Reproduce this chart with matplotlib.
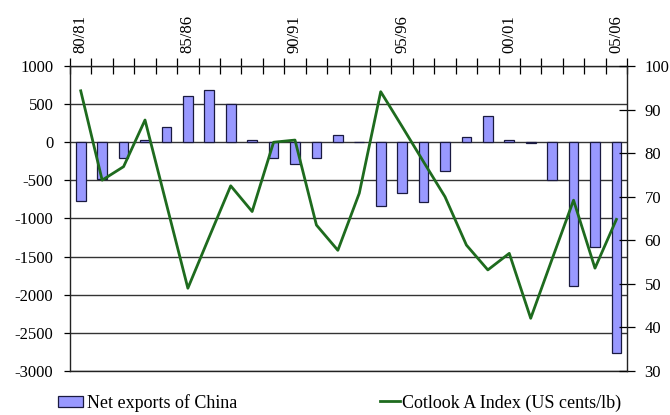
import numpy as np
import matplotlib
matplotlib.use("Agg")
import matplotlib.pyplot as plt
from matplotlib.patches import Patch
from matplotlib.lines import Line2D

plt.rcParams['font.family'] = ['Liberation Serif', 'DejaVu Serif']
plt.rcParams['axes.unicode_minus'] = False

seasons = ['80/81', '81/82', '82/83', '83/84', '84/85', '85/86', '86/87', '87/88',
           '88/89', '89/90', '90/91', '91/92', '92/93', '93/94', '94/95', '95/96',
           '96/97', '97/98', '98/99', '99/00', '00/01', '01/02', '02/03', '03/04',
           '04/05', '05/06']
net_exports = [-770, -480, -210, 35, 195, 610, 685, 500, 35, -210, -280, -210, 100, 0,
               -840, -660, -780, -380, 75, 350, 35, -15, -500, -1890, -1380, -2760]
cotlook = [94.3, 73.8, 76.9, 87.6, 68.3, 49.0, 60.8, 72.5, 66.6, 82.5, 83.0, 63.5, 57.7,
           70.8, 94.1, 86.1, 78.0, 70.0, 58.9, 53.2, 57.0, 42.1, 55.7, 69.2, 53.6, 64.8]
labelled = ['80/81', '85/86', '90/91', '95/96', '00/01', '05/06']

bar_color = '#9999ff'
line_color = '#1e6b1e'

fig = plt.figure(figsize=(6.7, 4.15), dpi=100)
ax = fig.add_axes([0.1045, 0.106, 0.8315, 0.735])
x = np.arange(len(seasons))

ax.bar(x, net_exports, width=0.45, color=bar_color, edgecolor='#1a1a40', linewidth=0.9, zorder=2)
ax.set_ylim(-3000, 1000)
ax.set_yticks(np.arange(-3000, 1001, 500))
ax.set_xlim(-0.5, len(seasons) - 0.5)
ax.yaxis.grid(True, color='#333333', linewidth=1.0, zorder=0)
ax.set_axisbelow(True)
ax.tick_params(axis='y', direction='out', length=4, width=0.9, pad=8, labelsize=12)

# categories on top: boundary ticks, labels every 5 seasons
ax.xaxis.tick_top()
ax.set_xticks(np.arange(len(seasons) + 1) - 0.5)
ax.set_xticklabels([])
ax.tick_params(axis='x', which='major', direction='inout', length=11, width=0.9)
ax.set_xticks([seasons.index(s) for s in labelled], minor=True)
ax.set_xticklabels(labelled, minor=True, rotation=90)
ax.tick_params(axis='x', which='minor', length=0, pad=9, labelsize=12, top=True, labeltop=True,
               bottom=False, labelbottom=False)
for sp in ax.spines.values():
    sp.set_color('#222222')
    sp.set_linewidth(1.0)
ax.spines['right'].set_visible(False)

ax2 = ax.twinx()
ax2.plot(x, cotlook, color=line_color, linewidth=2.0, zorder=3)
ax2.set_ylim(30, 100)
ax2.set_yticks(np.arange(30, 101, 10))
ax2.tick_params(axis='y', direction='inout', length=11, width=0.9, pad=7, labelsize=12)
for sp in ax2.spines.values():
    sp.set_visible(False)
ax2.spines['right'].set_visible(True)
ax2.spines['right'].set_color('#222222')
ax2.spines['right'].set_linewidth(1.0)

h1 = Patch(facecolor=bar_color, edgecolor='#1a1a40', linewidth=0.9)
h2 = Line2D([], [], color=line_color, linewidth=2.0)
fig.legend([h1], ['Net exports of China'], loc='lower left', bbox_to_anchor=(0.0866, 0.008),
           frameon=False, fontsize=13, borderpad=0, borderaxespad=0,
           handlelength=1.4, handleheight=0.55, handletextpad=0.2)
fig.legend([h2], ['Cotlook A Index (US cents/lb)'], loc='lower left', bbox_to_anchor=(0.567, 0.008),
           frameon=False, fontsize=13, borderpad=0, borderaxespad=0,
           handlelength=1.1, handletextpad=0.1)

fig.savefig('out.png', dpi=100)
